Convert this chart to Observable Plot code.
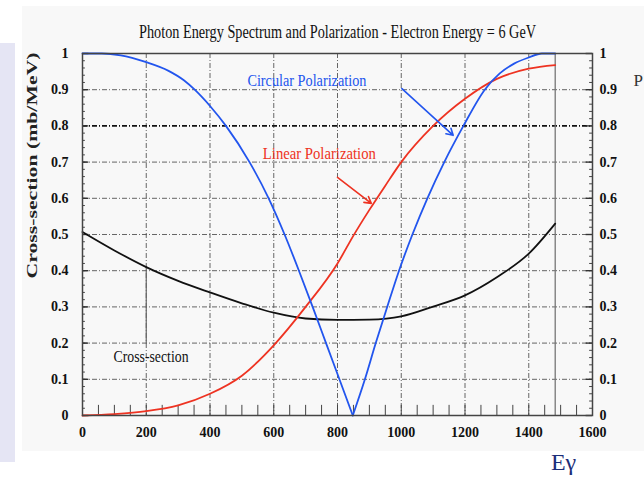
<!DOCTYPE html>
<html>
<head>
<meta charset="utf-8">
<script src="https://cdn.jsdelivr.net/npm/d3@7"></script>
<script src="https://cdn.jsdelivr.net/npm/@observablehq/plot@0.6"></script>
<style>
  html, body { margin: 0; padding: 0; background: #ffffff; overflow: hidden; }
  #wrap { position: relative; width: 644px; height: 477px; }
  #panel { position: absolute; left: 22px; top: 6px; width: 622px; height: 445px; background: #f8f8f8; }
  #strip { position: absolute; left: 0px; top: 43px; width: 15px; height: 419px; background: #e5e5f4; }
  #chart { position: absolute; left: 0; top: 0; }
</style>
</head>
<body>
<div id="wrap">
  <div id="panel"></div>
  <div id="strip"></div>
  <div id="chart"></div>
</div>
<script>
// ---- data ----
const titleText = "Photon Energy Spectrum and Polarization - Electron Energy = 6 GeV";
const yLabelText = "Cross-section (mb/MeV)";

const xTicks = [0, 200, 400, 600, 800, 1000, 1200, 1400, 1600];
const yTicks = [0, 0.1, 0.2, 0.3, 0.4, 0.5, 0.6, 0.7, 0.8, 0.9, 1];
const xMinor = d3.range(50, 1600, 50);
const yMinor = d3.range(0.02, 1, 0.02);

// Circular polarization (blue)
const circX = [0, 60, 120, 200, 270, 318, 352, 400, 450, 524, 584, 634, 679, 722, 764, 806, 848,
               886, 920, 956, 993, 1035, 1082, 1135, 1195, 1262, 1309, 1354, 1400, 1441, 1483];
const circY = [1, 1, 0.995, 0.976, 0.952, 0.926, 0.9, 0.855, 0.8, 0.7, 0.6, 0.5, 0.4, 0.3, 0.2, 0.1, 0,
               0.1, 0.2, 0.3, 0.4, 0.5, 0.6, 0.7, 0.8, 0.9, 0.945, 0.972, 0.989, 1, 1];
const circMin = 848;

// Linear polarization (red)
const linX = [0, 100, 200, 300, 400, 500, 600, 700, 800, 850, 900, 950, 1000, 1100, 1200, 1300, 1400, 1483];
const linY = [0, 0.004, 0.012, 0.028, 0.06, 0.11, 0.194, 0.30, 0.42, 0.497, 0.568, 0.635, 0.70, 0.80, 0.875, 0.93, 0.958, 0.968];

// Cross-section (black)
const crossX = [0, 100, 200, 300, 400, 500, 600, 700, 800, 900, 1000, 1100, 1200, 1300, 1400, 1483];
const crossY = [0.507, 0.456, 0.41, 0.372, 0.34, 0.31, 0.284, 0.268, 0.264, 0.265, 0.274, 0.301, 0.332, 0.382, 0.447, 0.53];

// end of the spectrum (vertical line)
const edgeX = [1483];

// annotations
const labelNames = ["Circular Polarization", "Linear Polarization", "Cross-section"];
const labelX = [704, 743, 215];
const labelY = [0.926, 0.724, 0.163];
const labelColors = ["#2255ee", "#ee3322", "#111111"];

const arrowX1 = [1002, 800];
const arrowY1 = [0.903, 0.658];
const arrowX2 = [1163, 906];
const arrowY2 = [0.774, 0.586];
const arrowColors = ["#2255ee", "#ee3322"];

const pointerX = [200];
const pointerY1 = [0.198];
const pointerY2 = [0.41];

// ---- tables ----
const circ = circX.map((x, i) => ({x, y: circY[i]}));
const lin = linX.map((x, i) => ({x, y: linY[i]}));
const cross = crossX.map((x, i) => ({x, y: crossY[i]}));
const labels = labelNames.map((t, i) => ({t, x: labelX[i], y: labelY[i], c: labelColors[i]}));
const arrows = arrowX1.map((x1, i) => ({x1, y1: arrowY1[i], x2: arrowX2[i], y2: arrowY2[i], c: arrowColors[i]}));
const pointers = pointerX.map((x, i) => ({x, y1: pointerY1[i], y2: pointerY2[i]}));

const fmt = d => String(+d.toFixed(1));
const gridDash = "5,2,1,2";

const chart = Plot.plot({
  width: 644,
  height: 477,
  marginLeft: 82,
  marginRight: 52,
  marginTop: 53,
  marginBottom: 62,
  style: {background: "transparent", fontFamily: "Liberation Serif, Times New Roman, serif", color: "#111"},
  x: {domain: [0, 1600]},
  y: {domain: [0, 1]},
  marks: [
    // grid
    Plot.ruleX(xTicks.slice(1, -1), {stroke: "#555", strokeWidth: 0.9, strokeDasharray: gridDash}),
    Plot.ruleY(yTicks.slice(1, -1).filter(v => Math.abs(v - 0.8) > 1e-9), {stroke: "#555", strokeWidth: 0.9, strokeDasharray: gridDash}),
    Plot.ruleY([0.8], {stroke: "#111", strokeWidth: 1.6, strokeDasharray: gridDash}),
    // minor / major inner ticks
    Plot.ruleX(xMinor, {y1: 0, y2: 0.028, stroke: "#444", strokeWidth: 1}),
    Plot.ruleY(yMinor, {x1: 0, x2: 9, stroke: "#444", strokeWidth: 1}),
    Plot.ruleY(yTicks, {x1: 0, x2: 20, stroke: "#333", strokeWidth: 1.4}),
    Plot.ruleY(yMinor, {x1: 1591, x2: 1600, stroke: "#444", strokeWidth: 1}),
    Plot.ruleY(yTicks, {x1: 1580, x2: 1600, stroke: "#333", strokeWidth: 1.4}),
    // spectrum edge
    Plot.ruleX(edgeX, {y1: 0, y2: 1, stroke: "#777", strokeWidth: 1.3}),
    // cross-section pointer
    Plot.ruleX(pointers, {x: "x", y1: "y1", y2: "y2", stroke: "#666", strokeWidth: 1.2}),
    // curves
    Plot.line(cross, {x: "x", y: "y", stroke: "#111", strokeWidth: 1.8, curve: "monotone-x"}),
    Plot.line(lin, {x: "x", y: "y", stroke: "#ee3322", strokeWidth: 1.8, curve: "monotone-x"}),
    Plot.line(circ.filter(d => d.x <= circMin), {x: "x", y: "y", stroke: "#2255ee", strokeWidth: 1.8, curve: "monotone-x"}),
    Plot.line(circ.filter(d => d.x >= circMin), {x: "x", y: "y", stroke: "#2255ee", strokeWidth: 1.8, curve: "monotone-x"}),
    // annotation arrows
    Plot.arrow(arrows, {x1: "x1", y1: "y1", x2: "x2", y2: "y2", stroke: "c", strokeWidth: 1.6, headLength: 7}),
    // annotation labels
    Plot.text(labels, {x: "x", y: "y", text: "t", fill: "c", fontSize: 17}),
    // frame
    Plot.frame({stroke: "#444", strokeWidth: 1.5}),
    // axes
    Plot.axisX(xTicks, {anchor: "bottom", tickSize: 0, tickPadding: 12, fontSize: 14, fontWeight: "bold", label: null, tickFormat: d => String(d)}),
    Plot.axisY(yTicks, {anchor: "left", tickSize: 0, tickPadding: 14, fontSize: 14, fontWeight: "bold", label: null, tickFormat: fmt}),
    Plot.axisY(yTicks, {anchor: "right", tickSize: 0, tickPadding: 7, fontSize: 14, fontWeight: "bold", label: null, tickFormat: fmt}),
    // title and axis labels
    Plot.text([titleText], {frameAnchor: "top", dy: -21, textAnchor: "middle", lineAnchor: "middle", fontSize: 18, fill: "#111"}),
    Plot.text([yLabelText], {frameAnchor: "top-left", dx: -50, dy: 112, textAnchor: "middle", lineAnchor: "middle", rotate: -90, fontSize: 15, fontWeight: "bold", fill: "#222"}),
    Plot.text(["P"], {frameAnchor: "top-right", dx: 41, dy: 27, textAnchor: "start", lineAnchor: "middle", fontSize: 17, fill: "#333"}),
    Plot.text(["Eγ"], {frameAnchor: "bottom-right", dx: -29, dy: 47, textAnchor: "middle", lineAnchor: "middle", fontSize: 24, fill: "#1c2e78"})
  ]
});

// condense the narrow serif texts to the widths seen in the reference
const squeeze = new Map([
  [titleText, 397],
  [yLabelText, 226],
  ["Circular Polarization", 119],
  ["Linear Polarization", 113],
  ["Cross-section", 75]
]);
d3.select(chart).selectAll("text").each(function () {
  const w = squeeze.get(this.textContent);
  if (w) {
    this.setAttribute("textLength", w);
    this.setAttribute("lengthAdjust", "spacingAndGlyphs");
  }
});

document.getElementById("chart").appendChild(chart);
</script>
</body>
</html>
